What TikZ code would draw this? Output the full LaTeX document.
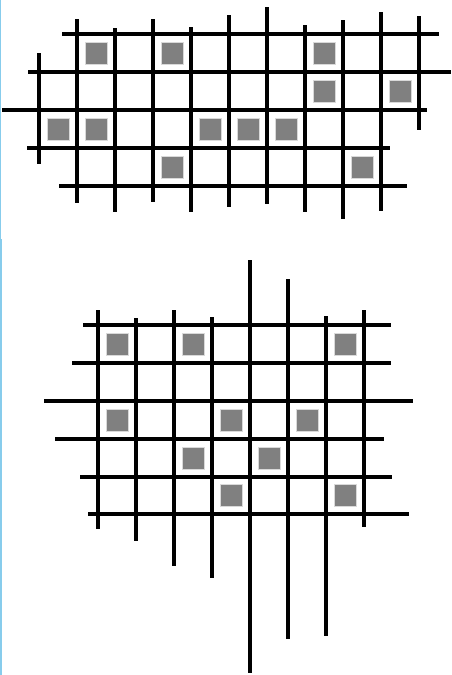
\documentclass[tikz,border=0pt]{standalone}
\usepackage{tikz}
\usetikzlibrary{positioning}
\definecolor{edgeblue}{RGB}{135,204,236}

\begin{document}
\begin{tikzpicture}[
        x=0.75pt, y=-0.75pt,
        bar/.style={line width=3pt, black},
        cell/.style={draw=gray!30, fill=gray, line width=0.75pt, minimum size=16.5pt, inner sep=0pt},
        rim/.style={edgeblue}
    ]
    \useasboundingbox (0,0) rectangle (451,675);

    % left rim
    \coordinate (rimA) at (0.7,0);
    \coordinate (rimB) at (0.7,239);
    \coordinate (rimC) at (1.2,239);
    \coordinate (rimD) at (1.2,675);
    \draw[rim, line width=0.8pt] (rimA) -- (rimB);
    \draw[rim, line width=1.6pt] (rimC) -- (rimD);

    % upper grid
    \foreach \y/\a/\b in {34/62/439, 72/28/451, 110/2/427, 148/27/390, 186/59/407}
        \draw[bar] (\a,\y) -- (\b,\y);
    \foreach \x/\a/\b in {39/53/164, 77/19/203, 115/28/212, 153/19/202, 191/27/212,
                          229/15/207, 267/7/204, 305/25/212, 343/20/219, 381/12/211, 419/16/130}
        \draw[bar] (\x,\a) -- (\x,\b);
    \foreach \x/\y [count=\i] in {96/53, 172/53, 324/53, 324/91, 400/91, 58/129, 96/129,
                                  210/129, 248/129, 286/129, 172/167, 362/167}
        \node[cell] (up\i) at (\x,\y) {};

    % lower grid
    \foreach \y/\a/\b in {325/83/391, 363/72/391, 401/44/413, 439/55/384, 477/80/392, 514/88/409}
        \draw[bar] (\a,\y) -- (\b,\y);
    \foreach \x/\a/\b in {98/310/529, 136/318/541, 174/310/566, 212/317/578,
                          250/260/673, 288/279/639, 326/316/636, 364/310/527}
        \draw[bar] (\x,\a) -- (\x,\b);
    \foreach \x/\y [count=\i] in {117/344, 193/344, 345/344, 117/420, 231/420, 307/420,
                                  193/458, 269/458, 231/495, 345/495}
        \node[cell] (lo\i) at (\x,\y) {};
\end{tikzpicture}
\end{document}
